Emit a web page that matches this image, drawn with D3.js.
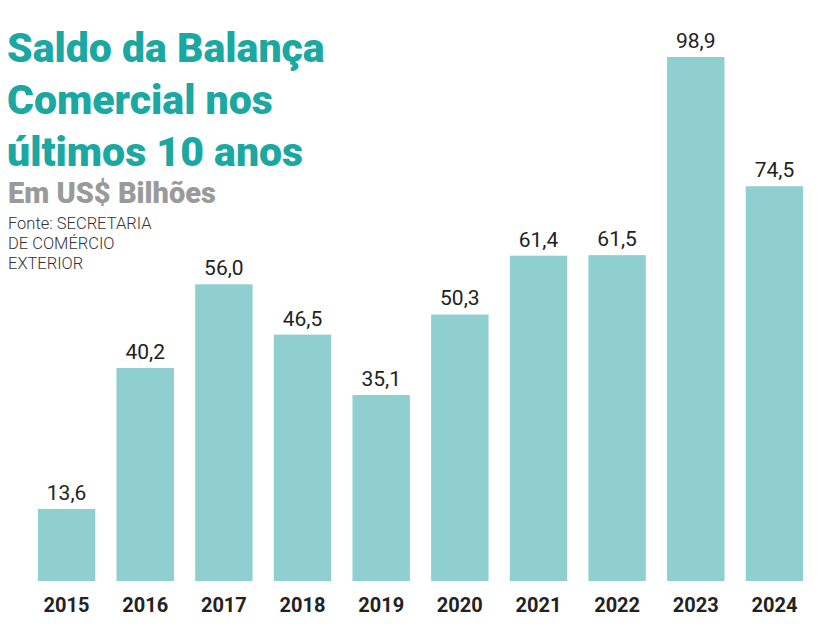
<!DOCTYPE html>
<html><head><meta charset="utf-8">
<script src="https://cdn.jsdelivr.net/npm/d3@7"></script>
<style>body{margin:0;background:#fff}</style>
</head><body>
<svg id="c" width="825" height="631"></svg>
<script>
const years = ["2015","2016","2017","2018","2019","2020","2021","2022","2023","2024"];
const values = [13.6,40.2,56.0,46.5,35.1,50.3,61.4,61.5,98.9,74.5];
const titleLines = ["Saldo da Balança","Comercial nos","últimos 10 anos"];
const sourceLines = ["Fonte: SECRETARIA","DE COMÉRCIO","EXTERIOR"];

const svg = d3.select("#c");
const x = d3.scaleBand().domain(years).range([30, 811]).paddingInner(0.27).paddingOuter(0.1);
const y = d3.scaleLinear().domain([0, 98.9]).range([581, 57]);
const fmt = v => v.toFixed(1).replace(".", ",");

svg.selectAll("rect.bar").data(values).join("rect")
  .attr("class","bar")
  .attr("x",(d,i)=>x(years[i])).attr("width",x.bandwidth())
  .attr("y",d=>y(d)).attr("height",d=>y(0)-y(d))
  .attr("fill","#8fcfcf");

svg.selectAll("text.val").data(values).join("text")
  .attr("class","val")
  .attr("x",(d,i)=>x(years[i])+x.bandwidth()/2).attr("y",d=>y(d)-9)
  .attr("text-anchor","middle").attr("font-family","Roboto").attr("font-size",21)
  .attr("fill","#222").text(fmt);

svg.selectAll("text.yr").data(years).join("text")
  .attr("class","yr")
  .attr("x",d=>x(d)+x.bandwidth()/2).attr("y",612)
  .attr("text-anchor","middle").attr("font-family","Roboto").attr("font-weight","bold")
  .attr("font-size",20).attr("fill","#222").text(d=>d);

svg.selectAll("text.t").data(titleLines).join("text")
  .attr("class","t").attr("x",7).attr("y",(d,i)=>62+i*52)
  .attr("font-family","Roboto").attr("font-weight","900").attr("font-size",41)
  .attr("fill","#1ba7a2").text(d=>d);

svg.append("text").attr("x",8).attr("y",203)
  .attr("font-family","Roboto").attr("font-weight","900").attr("font-size",29)
  .attr("fill","#9a9a9a").text("Em US$ Bilhões");

svg.selectAll("text.s").data(sourceLines).join("text")
  .attr("class","s").attr("x",8).attr("y",(d,i)=>229+i*20)
  .attr("font-family","Roboto").attr("font-weight",300).attr("font-size",16.5)
  .attr("fill","#333").text(d=>d);
</script>
</body></html>
